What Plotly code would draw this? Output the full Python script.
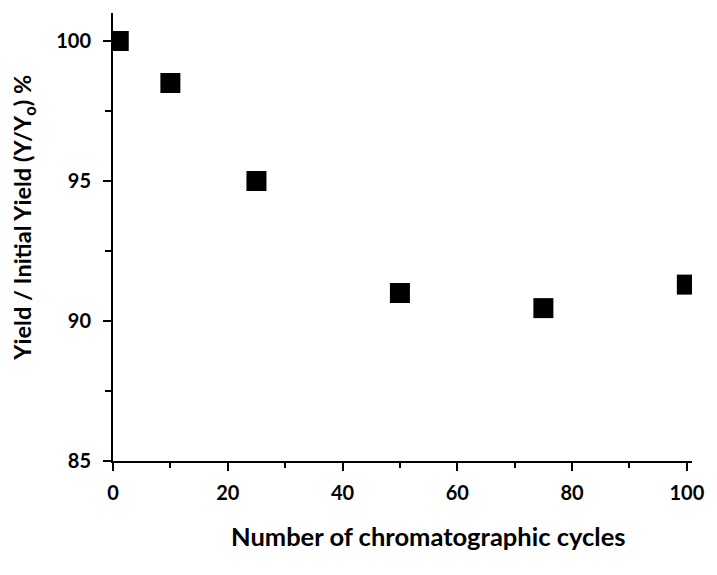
import plotly.graph_objects as go

cycles = [1, 10, 25, 50, 75, 100]
yield_ratio = [100.0, 98.5, 95.0, 91.0, 90.46, 91.3]

x_title = "Number of chromatographic cycles"
y_title = "Yield / Initial Yield (Y/Y<sub>o</sub>) %"

FONT = "Lato"

# plot-area pixel geometry
L, R, T, B = 113, 703, 13, 461
W, H = 717, 575

fig = go.Figure(go.Scatter(
    x=cycles, y=yield_ratio, mode="markers",
    marker=dict(symbol="square", size=20, color="black"),
    showlegend=False,
))

axis_common = dict(
    showline=True, linecolor="black", linewidth=2,
    ticks="outside", ticklen=8, tickwidth=2, tickcolor="black",
    showgrid=False, zeroline=False,
    tickfont=dict(family=FONT, size=20, color="black", weight="bold"),
)

fig.update_xaxes(range=[0, 100.9], tickvals=[0, 20, 40, 60, 80, 100], ticklabelstandoff=5,
                 minor=dict(tickvals=[10, 30, 50, 70, 90], ticks="outside", ticklen=5, tickwidth=2, tickcolor="black"),
                 **axis_common)
fig.update_yaxes(range=[85, 101.0], tickvals=[85, 90, 95, 100], ticklabelstandoff=8,
                 minor=dict(tickvals=[87.5, 92.5, 97.5], ticks="outside", ticklen=6, tickwidth=2, tickcolor="black"),
                 **axis_common)

fig.add_annotation(text=x_title, xref="paper", yref="paper",
                   x=(434 - L) / (R - L), y=-(536 - B) / (B - T),
                   showarrow=False, xanchor="center", yanchor="middle",
                   font=dict(family=FONT, size=25.5, color="black", weight="bold"))
fig.add_annotation(text=y_title, xref="paper", yref="paper",
                   x=-(L - 22) / (R - L), y=(B - 218) / (B - T),
                   textangle=-90, showarrow=False, xanchor="center", yanchor="middle",
                   font=dict(family=FONT, size=23.5, color="black", weight="bold"))

fig.update_layout(
    width=W, height=H,
    margin=dict(l=L, r=W - R, t=T, b=H - B),
    plot_bgcolor="white", paper_bgcolor="white",
)

fig.write_html("out.html", config={"displayModeBar": False},
               post_script="document.body.style.margin='0';")
